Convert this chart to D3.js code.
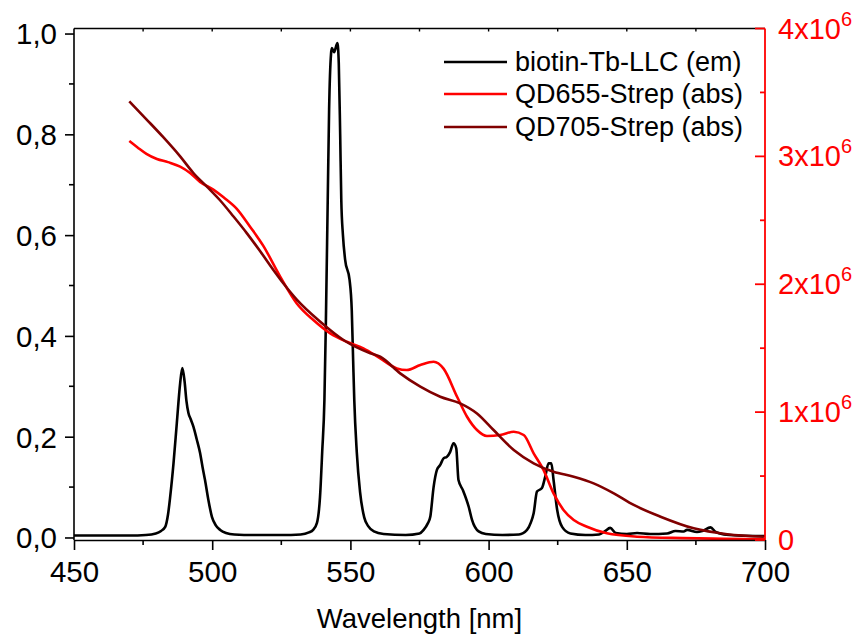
<!DOCTYPE html>
<html>
<head>
<meta charset="utf-8">
<script src="https://cdn.jsdelivr.net/npm/d3@7"></script>
<style>
  body { margin: 0; background: #fff; }
  svg text { font-family: "Liberation Sans", Arial, sans-serif; }
</style>
</head>
<body>
<script>
// biotin-Tb-LLC emission (left axis, normalised)
const emWl = [450,460,470,476,479.6,481.5,483,484,484.8,486,487.2,488.4,489.2,490,490.7,491.4,492.2,493.2,494.4,495.6,496.5,497.4,498.6,499.9,501.3,502.9,505,508,515,525,532,535,536.5,537.9,539,539.8,540.6,541.1,541.8,542.3,543,543.3,544.1,545.3,545.8,546.3,546.7,547.3,548.1,549.7,550.5,551,551.4,552.3,553.5,555,556.5,558.5,562,570,575,576.5,578,578.9,580.1,581.3,582.5,583.7,584.9,586.1,587.3,588.3,589.1,590.7,592.8,594,596.4,599,605,611,613.9,615.3,616.3,617.5,619.3,620.5,621.7,622.7,623.5,624.8,626.6,629.6,635,640,642,644,646,650,653.7,658.5,664.6,667.6,670.6,671.8,675.4,677.3,680.3,682.1,685.1,690,700]
const emVal = [0.004,0.004,0.004,0.005,0.008,0.013,0.021,0.045,0.081,0.147,0.227,0.306,0.336,0.31,0.27,0.247,0.235,0.22,0.195,0.168,0.14,0.114,0.075,0.041,0.024,0.015,0.009,0.006,0.005,0.005,0.006,0.01,0.015,0.029,0.08,0.17,0.273,0.418,0.67,0.85,0.96,0.971,0.963,0.981,0.94,0.8,0.67,0.6,0.551,0.511,0.45,0.35,0.273,0.17,0.09,0.04,0.022,0.012,0.007,0.005,0.008,0.015,0.028,0.041,0.1,0.134,0.144,0.157,0.16,0.17,0.187,0.177,0.114,0.094,0.061,0.035,0.012,0.007,0.005,0.006,0.015,0.03,0.048,0.091,0.098,0.121,0.147,0.147,0.114,0.055,0.021,0.008,0.005,0.006,0.012,0.019,0.009,0.007,0.009,0.007,0.008,0.013,0.012,0.015,0.011,0.013,0.02,0.011,0.006,0.004,0.003]

// QD655-Strep absorption (right axis, in units of 10^6)
const qd655Wl = [470,473,476.2,480,484,488.4,492,495.6,500.4,504.1,508.9,513.7,518.5,524.6,530.6,536.6,542.7,548.7,554.7,560.8,566.8,570.4,575.3,580.1,583.7,588.6,592.2,595.8,599.4,604.2,609.1,612.7,616.3,619.9,623.5,627.1,630.8,635.6,642.8,653.7,670,685,700]
const qd655Val = [3.12,3.07,3.02,2.98,2.955,2.92,2.87,2.80,2.74,2.68,2.59,2.45,2.30,2.06,1.85,1.72,1.616,1.55,1.499,1.42,1.342,1.329,1.368,1.394,1.34,1.12,0.964,0.86,0.813,0.821,0.847,0.821,0.678,0.547,0.365,0.235,0.156,0.104,0.052,0.026,0.015,0.01,0.006]

// QD705-Strep absorption (right axis, in units of 10^6)
const qd705Wl = [470,476.2,482.3,488.4,493.2,498,502.9,507.7,512.5,517.3,522.2,526,530.6,539.1,547.5,557.2,560.8,568,575.3,582.5,589.7,595.8,601.8,609.1,616.3,623.5,630.8,638,645.3,652.5,662.2,674.2,686.3,699.6]
const qd705Val = [3.43,3.29,3.15,3.0,2.87,2.765,2.655,2.53,2.40,2.26,2.11,2.0,1.88,1.707,1.564,1.46,1.433,1.303,1.199,1.12,1.069,0.99,0.86,0.704,0.6,0.534,0.495,0.443,0.365,0.274,0.182,0.091,0.045,0.026]

const xTicks = [450,500,550,600,650,700]
const leftTicks = [0,0.2,0.4,0.6,0.8,1.0]
const rightTicks = [0,1,2,3,4]
const seriesNames = ["biotin-Tb-LLC (em)","QD655-Strep (abs)","QD705-Strep (abs)"]
const seriesColors = ["#000000","#ff0000","#800000"]

const W = 857, H = 634
const pLeft = 74, pRight = 765, pTop = 28.5, pBottom = 540

const svg = d3.select("body").append("svg")
    .attr("width", W)
    .attr("height", H)

const x = d3.scaleLinear().domain([450, 700]).range([pLeft, pRight])
const yL = d3.scaleLinear().domain([-0.005, 1.01]).range([pBottom, pTop])
const yR = d3.scaleLinear().domain([0, 4]).range([pBottom, pTop])

// curves
svg.append("clipPath").attr("id", "clip")
    .append("rect").attr("x", pLeft).attr("y", pTop).attr("width", pRight - pLeft).attr("height", pBottom - pTop)

const g = svg.append("g").attr("clip-path", "url(#clip)")

function drawLine(wl, vals, yScale, color) {
    const pts = wl.map((w, i) => [w, vals[i]])
    g.append("path")
        .datum(pts)
        .attr("fill", "none")
        .attr("stroke", color)
        .attr("stroke-width", 2.6)
        .attr("stroke-linejoin", "round")
        .attr("d", d3.line().x(d => x(d[0])).y(d => yScale(d[1])).curve(d3.curveMonotoneX))
}
drawLine(emWl, emVal, yL, seriesColors[0])
drawLine(qd655Wl, qd655Val, yR, seriesColors[1])
drawLine(qd705Wl, qd705Val, yR, seriesColors[2])

// bottom axis
const xMinor = d3.range(475, 700, 50)
svg.append("g")
    .attr("transform", `translate(0,${pBottom})`)
    .call(d3.axisBottom(x).tickValues(xTicks).tickSize(10).tickSizeOuter(0).tickFormat(d3.format("d")))
    .call(a => a.selectAll("text").attr("font-size", 29.5).attr("dy", 0).attr("y", 42).attr("fill", "#000"))
    .call(a => a.selectAll("line, path").attr("stroke", "#000").attr("stroke-width", 1.6))
svg.append("g").selectAll("line").data(xMinor).join("line")
    .attr("x1", d => x(d)).attr("x2", d => x(d))
    .attr("y1", pBottom).attr("y2", pBottom + 5)
    .attr("stroke", "#000").attr("stroke-width", 1.6)

// top border with small inward ticks
svg.append("line").attr("x1", pLeft).attr("x2", pRight).attr("y1", pTop).attr("y2", pTop)
    .attr("stroke", "#000").attr("stroke-width", 1.6)
svg.append("g").selectAll("line").data(d3.range(475, 700, 25)).join("line")
    .attr("x1", d => x(d)).attr("x2", d => x(d))
    .attr("y1", pTop).attr("y2", pTop + 3)
    .attr("stroke", "#000").attr("stroke-width", 1.4)

// left axis
const fmtComma = d => d3.format(".1f")(d).replace(".", ",")
svg.append("g")
    .attr("transform", `translate(${pLeft},0)`)
    .call(d3.axisLeft(yL).tickValues(leftTicks).tickSize(9).tickSizeOuter(0).tickFormat(fmtComma))
    .call(a => a.select(".domain").remove())
    .call(a => a.selectAll("text").attr("font-size", 29.5).attr("x", -17).attr("dy", "0.35em").attr("fill", "#000"))
    .call(a => a.selectAll("line").attr("stroke", "#000").attr("stroke-width", 1.6))
svg.append("line").attr("x1", pLeft).attr("x2", pLeft).attr("y1", pTop).attr("y2", pBottom)
    .attr("stroke", "#000").attr("stroke-width", 1.6)
svg.append("g").selectAll("line").data(d3.range(0.1, 1.0, 0.2)).join("line")
    .attr("x1", pLeft - 5).attr("x2", pLeft)
    .attr("y1", d => yL(d)).attr("y2", d => yL(d))
    .attr("stroke", "#000").attr("stroke-width", 1.6)

// right axis (red), inward ticks
const red = "#ff0000"
svg.append("line").attr("x1", pRight).attr("x2", pRight).attr("y1", pTop).attr("y2", pBottom)
    .attr("stroke", red).attr("stroke-width", 1.8)
svg.append("g").selectAll("line").data(rightTicks).join("line")
    .attr("x1", pRight - 10).attr("x2", pRight)
    .attr("y1", d => yR(d)).attr("y2", d => yR(d))
    .attr("stroke", red).attr("stroke-width", 1.8)
svg.append("g").selectAll("line").data(d3.range(0.5, 4, 1)).join("line")
    .attr("x1", pRight - 5).attr("x2", pRight)
    .attr("y1", d => yR(d)).attr("y2", d => yR(d))
    .attr("stroke", red).attr("stroke-width", 1.8)
const rl = svg.append("g").selectAll("text").data(rightTicks).join("text")
    .attr("x", pRight + 13)
    .attr("y", d => yR(d) + 10)
    .attr("font-size", 29)
    .attr("fill", red)
rl.each(function (d) {
    const t = d3.select(this)
    if (d === 0) { t.text("0"); return }
    t.append("tspan").text(d + "x10")
    t.append("tspan").attr("dy", -13).attr("font-size", 20).text("6")
})

// x label
svg.append("text")
    .attr("x", (pLeft + pRight) / 2)
    .attr("y", 628)
    .attr("text-anchor", "middle")
    .attr("font-size", 27.5)
    .text("Wavelength [nm]")

// legend
const legY = [62, 94, 127]
const leg = svg.append("g")
seriesNames.forEach((name, i) => {
    leg.append("line")
        .attr("x1", 444).attr("x2", 507)
        .attr("y1", legY[i]).attr("y2", legY[i])
        .attr("stroke", seriesColors[i]).attr("stroke-width", 2.6)
    leg.append("text")
        .attr("x", 515).attr("y", legY[i])
        .attr("dy", "0.35em")
        .attr("font-size", 27)
        .text(name)
})
</script>
</body>
</html>
